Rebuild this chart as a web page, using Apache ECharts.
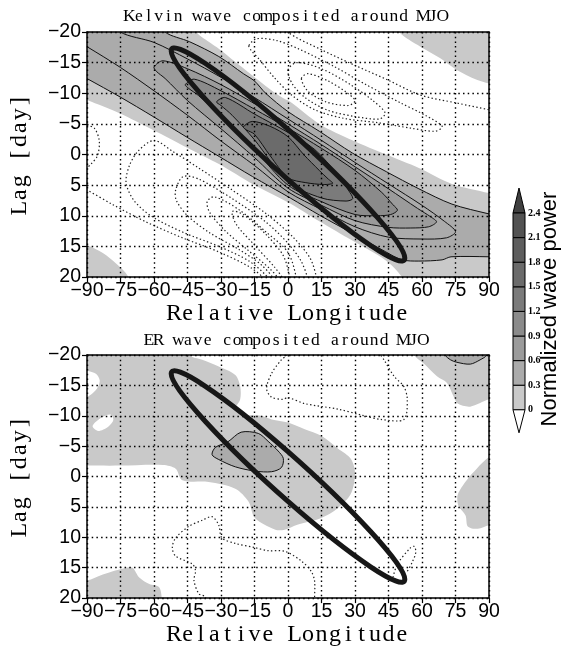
<!DOCTYPE html>
<html>
<head>
<meta charset="utf-8">
<script src="https://cdn.jsdelivr.net/npm/echarts@6/dist/echarts.min.js"></script>
<style>
html, body { margin: 0; padding: 0; background: #fff; }
#chart { width: 562px; height: 648px; }
</style>
</head>
<body>
<div id="chart"></div>
<script>
// ---- axes ----
const LON_MIN = -90, LON_MAX = 90, LON_STEP = 15;
const LAG_MIN = -20, LAG_MAX = 20, LAG_STEP = 5;

// ---- shading scale (normalized wave power) ----
const LEVEL_LABELS = ['0', '0.3', '0.6', '0.9', '1.2', '1.5', '1.8', '2.1', '2.4'];
const LEVEL_COLORS = ['#c9c9c9', '#ababab', '#9b9b9b', '#8b8b8b', '#7b7b7b', '#6b6b6b', '#5e5e5e', '#525252', '#404040'];

// ---- Kelvin composite: contour outlines as [relative longitude, lag] ----
const K_BAND = [[-95,-22],[-42,-22],[-41,-20],[-35.5,-18.4],[-30.7,-17.2],[-20.4,-14.2],[-10,-11.2],[-3,-9.4],[1,-8.6],[14,-5.0],[29,-2.3],[44,0],[58.6,2.2],[73.4,4.8],[90,6.3],[95,6.8],
  [95,22],[52,22],[51,20],[43.8,17.3],[29,14.1],[14,10.9],[1,8.0],[-15.9,4.8],[-30.7,1.6],[-45.6,-1.2],[-60.4,-4.0],[-75.2,-6.7],[-90,-8.9],[-95,-9.6]];
const K_CORNER_NE = [[48.5,-22],[49.7,-20],[59.3,-17.6],[68.2,-15.7],[75.6,-13.8],[84.5,-12.2],[90,-11.6],[95,-11.3],[95,-22]];
const K_CORNER_SW = [[-95,14.8],[-89.6,14.9],[-82.9,16.1],[-77,17.8],[-71.8,19.8],[-71,22],[-95,22]];
const K_C03 = [[-95,-22],[-55.5,-22],[-55,-20],[-44,-18.4],[-31,-16.0],[-20,-13.2],[-15,-12.0],[-10,-10.0],[0,-7.0],[14,-3.8],[29,-0.2],[44,2.8],[58.6,5.6],[73.4,8.1],[90,9.7],[95,10],
  [95,16.8],[90,16.7],[73,16.7],[69,17.2],[58.6,17.4],[51,17.2],[43.8,15.9],[29,12.9],[14.1,9.9],[1,7.1],[-15.9,3.6],[-30.7,0.35],[-45.6,-2.9],[-60.4,-6.2],[-75.2,-9.4],[-90,-12.4],[-95,-13.4]];
const K_C06 = [[-95,-22],[-75.5,-22],[-75,-20],[-60,-18.3],[-45,-15.6],[-30,-12.6],[-15,-9.3],[0,-5.8],[15,-2.3],[30,1.3],[45,4.8],[60,8.3],[70,10.9],[75,12.6],[71,13.6],[60,13.8],[45,13.5],[30,11.8],[15,9.0],[0,6.1],[-15,1.8],[-30,-2.2],[-45,-6.4],[-60,-10.4],[-75,-14.2],[-90,-17.6],[-95,-18.6]];
const K_C09 = [[-60,-14.3],[-56,-15.3],[-45,-14.0],[-30,-11.4],[-15,-8.3],[0,-5.0],[15,-1.6],[30,2.0],[45,5.6],[58,8.8],[64,10.2],[66.5,11.0],[63,11.8],[55,12.0],[45,11.9],[30,10.8],[15,8.3],[0,5.5],[-15,0.5],[-30,-4.2],[-45,-8.8],[-55,-12.4],[-59,-13.6]];
const K_C12 = [[-46,-11.4],[-42,-12.3],[-30,-10.4],[-15,-7.4],[0,-4.3],[15,-1.0],[30,2.6],[42,6.2],[47,8.2],[49,9.1],[46,9.8],[40,10.0],[30,9.8],[15,7.7],[0,5.0],[-15,-0.8],[-30,-6.2],[-40,-9.6],[-44.5,-10.8]];
const K_C15 = [[-32,-8.6],[-28,-9.3],[-15,-6.6],[0,-3.6],[12,-0.8],[22,3.2],[27,5.8],[29,7.2],[26,7.6],[15,7.1],[0,4.5],[-15,-2.4],[-25,-6.4],[-30,-8.0]];
const K_C18 = [[-20,-4.5],[-16,-5.4],[-8,-4.6],[0,-2.9],[7,0.0],[14,2.6],[18,4.0],[20,4.7],[16,4.9],[8,4.6],[0,3.8],[-8,0.2],[-15,-3.3],[-18.5,-4.0]];
// negative (dotted) contours
const K_NEG_W = [[-95,-5.2],[-90,-4.8],[-86.5,-4.2],[-84.5,-2.2],[-85.3,0.2],[-88.3,1.6],[-90,2.1],[-95,2.5]];
const K_NEG_SW0 = [[-95,5.0],[-90,5.8],[-78.4,8.2],[-63.6,11],[-47.3,13.6],[-31,15.9],[-17,18.4],[-10,20.5],[-8,22]];
const K_NEG_SW1 = [[13,22],[13,20.5],[10,17],[2,13.4],[-10,9.6],[-25,5.8],[-40,2.2],[-52,-0.6],[-60,-2.3],[-67,-0.6],[-71,1.8],[-72.5,4.6],[-69,7.5],[-61,10.1],[-47,12.7],[-31,15.0],[-17,17.5],[-8,20.5],[-7,22]];
const K_NEG_SW2 = [[9,22],[9,20.5],[6,17.5],[0,14.5],[-10,11],[-25,7.2],[-40,4.0],[-47,3.6],[-50.3,5.8],[-50,7.5],[-45,10],[-35,12.8],[-22,15.5],[-12,18],[-6,20.5],[-5,22]];
const K_NEG_SW3 = [[4,22],[4,20.5],[0,16],[-10,12.6],[-22,9],[-33,6.9],[-36.2,7.7],[-35,9.5],[-28,12.5],[-18,15.6],[-8,18.7],[-4,20.5],[-3.5,22]];
const K_NEG_SW4 = [[1,22],[1,20.5],[-2,16.6],[-10,13],[-20,9.8],[-25,9.3],[-23,11.5],[-15,14.8],[-6,18.4],[-2,20.5],[-1.5,22]];
const K_NEG_NE0 = [[-1,-22],[0,-20],[15,-17.1],[29.7,-14.6],[44.5,-12.2],[59.3,-9.7],[75.6,-8.4],[90,-7.3],[95,-6.9]];
const K_NEG_NE1 = [[-17.5,-17.8],[-14,-18.9],[-5,-18.6],[5,-17.2],[20,-14.5],[35,-11.4],[50,-8.5],[62,-6.3],[69,-4.6],[66,-3.8],[55,-4.3],[40,-5.2],[25,-5.9],[12,-7.3],[2,-9.6],[-6,-12.5],[-13,-15.6],[-16.5,-17]];
const K_NEG_NE2 = [[0,-13.8],[4,-15.0],[15,-14.0],[28,-11.4],[38,-8.8],[43.5,-6.8],[41,-5.8],[30,-6.2],[18,-7.2],[8,-9.2],[2,-11.5]];
const K_NEG_NE3 = [[6,-12.4],[9,-13.2],[18,-12.0],[26,-10.2],[30,-8.8],[27,-8.0],[17,-8.6],[9,-10.3]];

// ---- ER composite ----
const E_MAIN = [[-95,-22],[-44.6,-22],[-44.4,-20],[-38.4,-19.2],[-31,-18.1],[-23.6,-16.7],[-21.4,-14.8],[-21.4,-12.7],[-23.6,-11.1],[-20.7,-10.2],[-12,-10.0],[-7.3,-9.4],[0,-8.9],[7.5,-7.8],[14.9,-6.7],[22.3,-4.6],[28.2,-2.9],[30,-0.5],[28.2,2.8],[22.3,5.2],[14.9,6.8],[4.5,7.9],[-2,8.8],[-5.9,8.7],[-14.8,6.8],[-17.7,4.1],[-23.6,2],[-35.5,0.9],[-47.3,0.6],[-50.3,-1.3],[-56,-1.9],[-75,-1.8],[-90,-1.8],[-95,-1.8]];
const E_NE = [[55,-22],[56.4,-20],[60.8,-18.6],[66.7,-16.5],[71.2,-15.4],[74.1,-13.2],[76,-12],[81.6,-11.5],[90,-12.7],[95,-13],[95,-22]];
const E_EAST = [[95,-4],[90,-3.2],[84.5,-1.3],[80,0.6],[76,3.0],[76.3,4.8],[79.5,6.4],[80.5,8.2],[85,8.6],[90,8],[95,7.8]];
const E_SW = [[-95,16.9],[-90,17.1],[-82.9,16.1],[-72.5,15],[-69.6,15],[-66.6,16.6],[-62.1,17.7],[-57.7,18.2],[-56.5,20],[-56.3,22],[-95,22]];
const E_GAP_A = [[-95,-17.6],[-90,-17.4],[-86,-16.9],[-84.3,-15.8],[-85.5,-14.5],[-88.5,-13.4],[-90,-13.1],[-95,-13]];
const E_GAP_B = [[-87.5,-8.3],[-84,-9.6],[-79.5,-10.2],[-78.2,-9.3],[-80.5,-8.2],[-85,-7.5]];
const E_C03_A = [[-34,-3.6],[-32.5,-4.8],[-27,-5.7],[-21,-7.3],[-13.3,-7.1],[-8.9,-5.8],[-4.4,-4.2],[-2.1,-3],[-2.9,-1.5],[-7.3,-0.8],[-14.8,-0.9],[-23.6,-1.6],[-31,-2.8]];
const E_C03_B = [[69.5,-22],[70.4,-20],[72.8,-19.2],[75.6,-18.8],[81.6,-18.5],[86,-19.2],[89,-20],[90,-22]];
const E_NEG_N = [[-0.5,-22],[-0.7,-20],[-3,-19.2],[-7.3,-17],[-9.6,-14.5],[-7.5,-13.1],[-2.4,-12.7],[0,-13],[7.5,-12],[22.3,-11.1],[34.1,-10],[41.6,-9.4],[51.9,-9.4],[53.4,-12.7],[51.9,-14.8],[47.5,-16.5],[43,-19.2],[41.6,-20],[41.3,-22]];
const E_NEG_S = [[-36.5,22],[-37,19.8],[-39.9,19.3],[-42.1,17.1],[-41.4,15.5],[-42.8,14.4],[-50.3,13.1],[-51.8,11.7],[-50.3,10.1],[-44.4,8.2],[-38.4,7.2],[-34,6.6],[-31,8],[-29.6,10.1],[-23.6,11],[-14.8,11.7],[-8.9,12.2],[-1.4,12.3],[6,13.9],[10.4,15.6],[11.9,17.2],[11.9,20],[11.9,22]];
const E_NEG_TIP = [[47,16.6],[49,14.4],[54.9,11.7],[56.6,11.5],[57.2,12.5],[55.5,14.2],[53.4,15.6]];

// ---- MJO propagation ellipse: centre and conjugate extreme points ----
const ELLIPSE_CENTER = [0, 0];
const ELLIPSE_POINTS = [[52.3, 16.9], [0, 4.1], [-52.3, -16.9], [0, -4.1]];

// ---- layer lists (level = shading band index, -1 = blank) ----
const KELVIN_FILLS = [
  { pts: K_BAND, level: 0, edge: false },
  { pts: K_CORNER_NE, level: 0, edge: false },
  { pts: K_CORNER_SW, level: 0, edge: false },
  { pts: K_C03, level: 1, edge: true },
  { pts: K_C06, level: 1, edge: true },
  { pts: K_C09, level: 2, edge: true },
  { pts: K_C12, level: 3, edge: true },
  { pts: K_C15, level: 4, edge: true },
  { pts: K_C18, level: 5, edge: true }
];
const KELVIN_NEG = [
  { pts: K_NEG_W, closed: false }, { pts: K_NEG_SW0, closed: false }, { pts: K_NEG_SW1, closed: false },
  { pts: K_NEG_SW2, closed: false }, { pts: K_NEG_SW3, closed: false }, { pts: K_NEG_SW4, closed: false },
  { pts: K_NEG_NE0, closed: false }, { pts: K_NEG_NE1, closed: true }, { pts: K_NEG_NE2, closed: true },
  { pts: K_NEG_NE3, closed: true }
];
const ER_FILLS = [
  { pts: E_MAIN, level: 0, edge: false },
  { pts: E_NE, level: 0, edge: false },
  { pts: E_EAST, level: 0, edge: false },
  { pts: E_SW, level: 0, edge: false },
  { pts: E_GAP_A, level: -1, edge: false },
  { pts: E_GAP_B, level: -1, edge: false },
  { pts: E_C03_A, level: 1, edge: true },
  { pts: E_C03_B, level: 1, edge: true }
];
const ER_NEG = [
  { pts: E_NEG_N, closed: false }, { pts: E_NEG_S, closed: false }, { pts: E_NEG_TIP, closed: false }
];

const SMOOTH = 0.3;

function clipOf(params) {
  const cs = params.coordSys;
  return { type: 'rect', shape: { x: cs.x, y: cs.y, width: cs.width, height: cs.height } };
}

function fillSeries(gi, list) {
  return {
    type: 'custom', xAxisIndex: gi, yAxisIndex: gi, z: 2, silent: true,
    data: list.map((r, i) => [r.pts[0][0], r.pts[0][1], i]),
    renderItem: function (params, api) {
      const r = list[params.dataIndex];
      const pts = r.pts.map(p => api.coord(p));
      return {
        type: 'group', clipPath: clipOf(params),
        children: [{
          type: 'polygon',
          shape: { points: pts, smooth: SMOOTH },
          style: {
            fill: r.level < 0 ? '#ffffff' : LEVEL_COLORS[r.level],
            stroke: r.edge ? '#111111' : null,
            lineWidth: 1
          }
        }]
      };
    }
  };
}

function dottedSeries(gi, list) {
  return {
    type: 'custom', xAxisIndex: gi, yAxisIndex: gi, z: 3, silent: true,
    data: list.map((r, i) => [r.pts[0][0], r.pts[0][1], i]),
    renderItem: function (params, api) {
      const r = list[params.dataIndex];
      const pts = r.pts.map(p => api.coord(p));
      return {
        type: 'group', clipPath: clipOf(params),
        children: [{
          type: r.closed ? 'polygon' : 'polyline',
          shape: { points: pts, smooth: SMOOTH },
          style: { fill: 'none', stroke: '#1e1e1e', lineWidth: 1.2, lineDash: [1.4, 2.4] }
        }]
      };
    }
  };
}

function ellipseSeries(gi) {
  return {
    type: 'custom', xAxisIndex: gi, yAxisIndex: gi, z: 10, silent: true,
    data: [ELLIPSE_CENTER],
    renderItem: function (params, api) {
      const c = api.coord(ELLIPSE_CENTER);
      const q = ELLIPSE_POINTS.map(p => api.coord(p));
      const u = [(q[0][0] - q[2][0]) / 2, (q[0][1] - q[2][1]) / 2];
      const v = [(q[1][0] - q[3][0]) / 2, (q[1][1] - q[3][1]) / 2];
      const k = 0.5523;
      const P = (s, t) => [c[0] + s * u[0] + t * v[0], c[1] + s * u[1] + t * v[1]];
      const corners = [[1, 0], [0, 1], [-1, 0], [0, -1], [1, 0]];
      let d = 'M' + P(1, 0).join(' ');
      for (let i = 0; i < 4; i++) {
        const A = corners[i], B = corners[i + 1];
        const c1 = P(A[0] + k * B[0], A[1] + k * B[1]);
        const c2 = P(B[0] + k * A[0], B[1] + k * A[1]);
        const e = P(B[0], B[1]);
        d += ' C' + c1.join(' ') + ' ' + c2.join(' ') + ' ' + e.join(' ');
      }
      d += ' Z';
      return {
        type: 'path',
        shape: { pathData: d },
        style: { fill: 'none', stroke: '#171717', lineWidth: 5 }
      };
    }
  };
}

// typewriter-style text: serif glyphs on a fixed advance
function mono(str, cls) {
  return str.split('').map(ch => '{' + cls + '|' + ch + '}').join('');
}
const RICH_NAME = { m: { width: 13.4, align: 'center', fontFamily: 'Liberation Serif', fontSize: 24, fontWeight: 'normal', color: '#000' } };
const RICH_TITLE = { t: { width: 9.8, align: 'center', fontFamily: 'Liberation Serif', fontSize: 17.5, fontWeight: 'normal', color: '#000' } };

const minusFmt = v => (v < 0 ? '\u2212' + Math.abs(v) : String(v));
const tickStyle = { fontFamily: 'Liberation Sans', fontSize: 19.5, color: '#000', formatter: minusFmt, hideOverlap: false };
const gridDots = { show: true, lineStyle: { color: '#000', width: 1.4, type: [1.5, 3.2] } };

function bottomAxis(gi) {
  return {
    type: 'value', gridIndex: gi, position: 'bottom', z: 5,
    min: LON_MIN, max: LON_MAX, interval: LON_STEP,
    axisLine: { show: true, onZero: false, lineStyle: { color: '#000', width: 1.5 } },
    axisTick: { show: true, length: 5, lineStyle: { color: '#000', width: 1.2 } },
    axisLabel: Object.assign({ margin: 4, showMinLabel: true, showMaxLabel: true }, tickStyle),
    splitLine: gridDots,
    name: mono('Relative Longitude', 'm'), nameLocation: 'middle', nameGap: 22,
    nameTextStyle: { fontWeight: 'normal', rich: RICH_NAME }
  };
}
function topAxis(gi) {
  return {
    type: 'value', gridIndex: gi, position: 'top', z: 5,
    min: LON_MIN, max: LON_MAX, interval: LON_STEP,
    axisLine: { show: true, onZero: false, lineStyle: { color: '#000', width: 1.5 } },
    axisTick: { show: false }, axisLabel: { show: false }, splitLine: { show: false }
  };
}
function leftAxis(gi) {
  return {
    type: 'value', gridIndex: gi, position: 'left', inverse: true, z: 5,
    min: LAG_MIN, max: LAG_MAX, interval: LAG_STEP,
    axisLine: { show: true, onZero: false, lineStyle: { color: '#000', width: 1.5 } },
    axisTick: { show: true, length: 5, lineStyle: { color: '#000', width: 1.2 } },
    axisLabel: Object.assign({ margin: 6, showMinLabel: true, showMaxLabel: true }, tickStyle),
    splitLine: gridDots,
    name: mono('Lag [day]', 'm'), nameLocation: 'middle', nameGap: 55, nameRotate: 90,
    nameTextStyle: { fontWeight: 'normal', rich: RICH_NAME }
  };
}
function rightAxis(gi) {
  return {
    type: 'value', gridIndex: gi, position: 'right', inverse: true, z: 5,
    min: LAG_MIN, max: LAG_MAX, interval: LAG_STEP,
    axisLine: { show: true, onZero: false, lineStyle: { color: '#000', width: 1.5 } },
    axisTick: { show: false }, axisLabel: { show: false }, splitLine: { show: false }
  };
}

// ---- colour bar ----
const CB = { x: 513, w: 12, top: 213, step: 24.6, tip: 25 };
function colorBar() {
  const els = [];
  const n = LEVEL_LABELS.length - 1;
  const bottom = CB.top + n * CB.step;
  els.push({ type: 'polygon', shape: { points: [[CB.x, CB.top], [CB.x + CB.w / 2, CB.top - CB.tip], [CB.x + CB.w, CB.top]] },
    style: { fill: LEVEL_COLORS[n], stroke: '#000', lineWidth: 1 } });
  for (let i = 0; i < n; i++) {
    els.push({ type: 'rect', shape: { x: CB.x, y: bottom - (i + 1) * CB.step, width: CB.w, height: CB.step },
      style: { fill: LEVEL_COLORS[i], stroke: '#000', lineWidth: 1 } });
  }
  els.push({ type: 'polygon', shape: { points: [[CB.x, bottom], [CB.x + CB.w, bottom], [CB.x + CB.w / 2, bottom + 23]] },
    style: { fill: '#fff', stroke: '#000', lineWidth: 1 } });
  LEVEL_LABELS.forEach((t, i) => {
    els.push({ type: 'text', x: CB.x + CB.w + 3, y: bottom - i * CB.step,
      style: { text: t, fill: '#000', font: 'bold 10px "Liberation Serif"', align: 'left', verticalAlign: 'middle' } });
  });
  els.push({ type: 'text', x: 550, y: 309, rotation: Math.PI / 2,
    style: { text: 'Normalized wave power', fill: '#000', font: '22px "Liberation Sans"', align: 'center', verticalAlign: 'middle' } });
  return els;
}

const titleStyle = { fontWeight: 'normal', rich: RICH_TITLE };
const chart = echarts.init(document.getElementById('chart'), null, { renderer: 'canvas' });
chart.setOption({
  animation: false,
  backgroundColor: '#fff',
  title: [
    { text: mono('Kelvin wave composited around MJO', 't'), left: 286, top: 7, padding: 0, textAlign: 'center', textStyle: titleStyle },
    { text: mono('ER wave composited around MJO', 't'), left: 286, top: 331, padding: 0, textAlign: 'center', textStyle: titleStyle }
  ],
  grid: [
    { left: 84, top: 32, width: 405, height: 245 },
    { left: 84, top: 355, width: 405, height: 246 }
  ],
  xAxis: [bottomAxis(0), bottomAxis(1), topAxis(0), topAxis(1)],
  yAxis: [leftAxis(0), leftAxis(1), rightAxis(0), rightAxis(1)],
  series: [
    fillSeries(0, KELVIN_FILLS),
    dottedSeries(0, KELVIN_NEG),
    ellipseSeries(0),
    fillSeries(1, ER_FILLS),
    dottedSeries(1, ER_NEG),
    ellipseSeries(1)
  ],
  graphic: colorBar()
});
</script>
</body>
</html>
